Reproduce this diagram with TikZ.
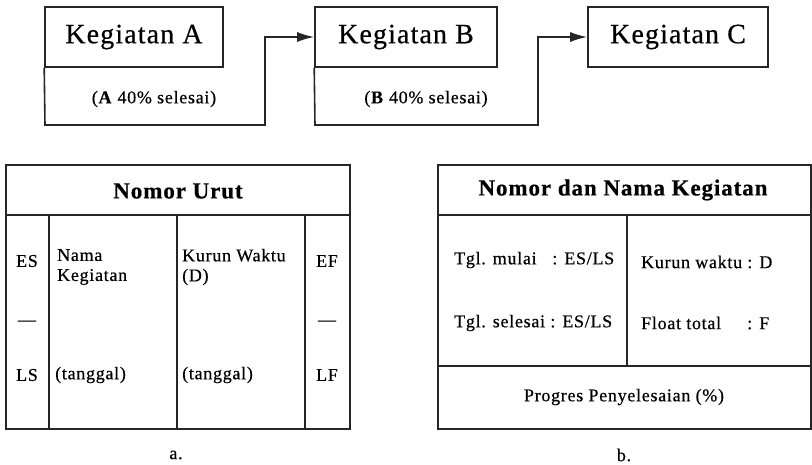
\documentclass[tikz,border=0pt]{standalone}
\usepackage{fontspec}
\setmainfont{Liberation Serif}[LetterSpace=4.0,FakeBold=0.5]
\usetikzlibrary{arrows.meta}

\newcommand{\fs}[1]{\fontsize{#1}{#1}\selectfont}

\begin{document}
\begin{tikzpicture}[x=1pt,y=-1pt,
  frame/.style={line width=1.6pt,draw=black!85},
  actbox/.style={frame,rectangle,inner sep=0pt,font=\fs{28}},
  link/.style={line width=1.6pt,draw=black!85,-{Latex[length=17pt,width=10pt]}},
  txt/.style={inner sep=0pt,font=\fs{18}},
  ltxt/.style={txt,anchor=west,align=left},
  head/.style={inner sep=0pt,font=\fs{23}\bfseries}]
\useasboundingbox (0,0) rectangle (812,465);

% activity chain
\node[actbox,minimum width=178pt,minimum height=60pt] (A) at (134,37) {Kegiatan A};
\node[actbox,minimum width=182pt,minimum height=60pt] (B) at (406,37) {Kegiatan B};
\node[actbox,minimum width=180pt,minimum height=60pt] (C) at (678,37) {Kegiatan C};

\node[txt] (Ap) at (154,99) {(\textbf{A} 40\% selesai)};
\node[txt] (Bp) at (426,99) {(\textbf{B} 40\% selesai)};

\coordinate (Abl) at (45,125);
\coordinate (Aturn) at (265,125);
\coordinate (Bbl) at (315,125);
\coordinate (Bturn) at (538,125);
\draw[link] (A.south west) -- (Abl) -- (Aturn) |- (B.west);
\draw[link] (B.south west) -- (Bbl) -- (Bturn) |- (C.west);

% node layout a
\draw[frame] (6,165) rectangle (350,429);
\draw[frame] (6,215) -- (350,215);
\draw[frame] (49,215) -- (49,429);
\draw[frame] (177,215) -- (177,429);
\draw[frame] (305,215) -- (305,429);
\node[head] (nu) at (178,191) {Nomor Urut};
\node[txt] (es) at (27,261) {ES};
\node[txt] (d1) at (27,323) {---};
\node[txt] (ls) at (27,375) {LS};
\node[txt] (ef) at (327,261) {EF};
\node[txt] (d2) at (327,323) {---};
\node[txt] (lf) at (327,375) {LF};
\node[ltxt] (nk) at (57,267) {\fs{18}Nama\\[2pt]Kegiatan};
\node[ltxt] (kw) at (182,267) {\fs{18}Kurun Waktu\\[2pt](D)};
\node[ltxt] (t1) at (55,375) {(tanggal)};
\node[ltxt] (t2) at (182,375) {(tanggal)};
\node[txt] (ca) at (176,455) {a.};

% node layout b
\draw[frame] (438,165) rectangle (811,429);
\draw[frame] (438,215) -- (811,215);
\draw[frame] (438,366) -- (811,366);
\draw[frame] (627,215) -- (627,366);
\node[head] (nn) at (623,190) {Nomor dan Nama Kegiatan};
\node[ltxt] (tm) at (454,260) {Tgl. mulai\ \ \ : ES/LS};
\node[ltxt] (ts) at (454,323) {Tgl. selesai : ES/LS};
\node[ltxt] (kd) at (641,262) {Kurun waktu : D};
\node[ltxt] (ft) at (641,323) {Float total\ \ \ \ \ : F};
\node[txt] (pp) at (624,397) {Progres Penyelesaian (\%)};
\node[txt] (cb) at (624,455) {b.};
\end{tikzpicture}
\end{document}
